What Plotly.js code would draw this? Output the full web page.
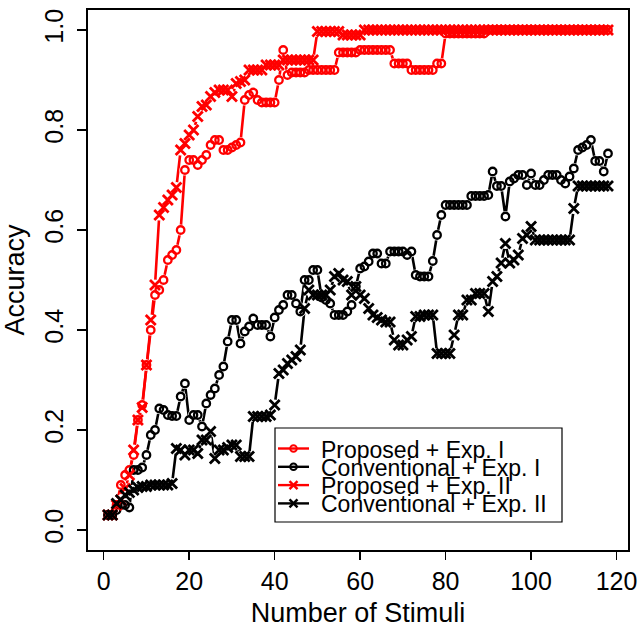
<!DOCTYPE html>
<html>
<head>
<meta charset="utf-8">
<script src="https://cdn.plot.ly/plotly-3.0.1.min.js"></script>
<style>html,body{margin:0;padding:0;background:#fff;}</style>
</head>
<body>
<div id="chart" style="width:641px;height:628px;"></div>
<script>
// Number of stimuli (x)
const stimuli = [1,2,3,4,5,6,7,8,9,10,11,12,13,14,15,16,17,18,19,20,
21,22,23,24,25,26,27,28,29,30,31,32,33,34,35,36,37,38,39,40,
41,42,43,44,45,46,47,48,49,50,51,52,53,54,55,56,57,58,59,60,
61,62,63,64,65,66,67,68,69,70,71,72,73,74,75,76,77,78,79,80,
81,82,83,84,85,86,87,88,89,90,91,92,93,94,95,96,97,98,99,100,
101,102,103,104,105,106,107,108,109,110,111,112,113,114,115,116,117,118];

// Proposed + Exp. I
const proposedExp1 = [0.03,0.03,0.05,0.09,0.11,0.12,0.15,0.22,0.25,0.33,
0.40,0.47,0.48,0.50,0.54,0.55,0.56,0.60,0.72,0.74,
0.74,0.73,0.74,0.75,0.77,0.78,0.78,0.76,0.76,0.765,
0.77,0.775,0.86,0.87,0.875,0.86,0.855,0.855,0.855,0.855,
0.90,0.96,0.91,0.915,0.915,0.915,0.915,0.92,0.92,0.92,
0.92,0.92,0.92,0.92,0.955,0.955,0.955,0.955,0.955,0.96,
0.96,0.96,0.96,0.96,0.96,0.96,0.96,0.933,0.933,0.933,
0.933,0.92,0.92,0.92,0.92,0.92,0.92,0.933,0.933,0.993,
0.993,0.993,0.993,0.993,0.993,0.993,0.993,0.993,0.993,1.0,
1.0,1.0,1.0,1.0,1.0,1.0,1.0,1.0,1.0,1.0,
1.0,1.0,1.0,1.0,1.0,1.0,1.0,1.0,1.0,1.0,
1.0,1.0,1.0,1.0,1.0,1.0,1.0,1.0];

// Conventional + Exp. I
const conventionalExp1 = [0.03,0.03,0.04,0.05,0.05,0.045,0.12,0.12,0.125,0.15,
0.19,0.20,0.243,0.24,0.23,0.228,0.228,0.267,0.293,0.22,
0.23,0.23,0.207,0.253,0.27,0.283,0.31,0.327,0.377,0.42,
0.42,0.373,0.397,0.407,0.423,0.41,0.41,0.41,0.387,0.425,
0.44,0.45,0.47,0.47,0.453,0.437,0.50,0.50,0.52,0.52,
0.465,0.46,0.453,0.43,0.43,0.43,0.437,0.45,0.487,0.523,
0.527,0.537,0.553,0.553,0.533,0.533,0.557,0.557,0.557,0.557,
0.55,0.557,0.51,0.507,0.507,0.507,0.538,0.59,0.63,0.65,
0.65,0.65,0.65,0.65,0.65,0.668,0.668,0.668,0.668,0.67,
0.717,0.688,0.688,0.627,0.697,0.703,0.71,0.71,0.69,0.713,
0.69,0.69,0.70,0.71,0.71,0.71,0.70,0.693,0.707,0.723,
0.76,0.765,0.77,0.78,0.738,0.738,0.717,0.753];

// Proposed + Exp. II
const proposedExp2 = [0.03,0.03,0.05,0.06,0.083,0.11,0.16,0.22,0.245,0.33,
0.42,0.49,0.63,0.645,0.66,0.67,0.685,0.76,0.773,0.79,
0.80,0.827,0.847,0.85,0.867,0.875,0.88,0.88,0.88,0.867,
0.893,0.897,0.90,0.92,0.92,0.92,0.92,0.93,0.93,0.93,
0.93,0.94,0.94,0.94,0.94,0.94,0.94,0.94,0.94,0.997,
0.997,0.997,0.997,0.997,0.997,0.99,0.99,0.99,0.99,0.99,
1.0,1.0,1.0,1.0,1.0,1.0,1.0,1.0,1.0,1.0,
1.0,1.0,1.0,1.0,1.0,1.0,1.0,1.0,1.0,1.0,
1.0,1.0,1.0,1.0,1.0,1.0,1.0,1.0,1.0,1.0,
1.0,1.0,1.0,1.0,1.0,1.0,1.0,1.0,1.0,1.0,
1.0,1.0,1.0,1.0,1.0,1.0,1.0,1.0,1.0,1.0,
1.0,1.0,1.0,1.0,1.0,1.0,1.0,1.0];

// Conventional + Exp. II
const conventionalExp2 = [0.03,0.03,0.053,0.06,0.07,0.075,0.08,0.085,0.087,0.087,
0.09,0.09,0.09,0.09,0.09,0.093,0.163,0.16,0.15,0.16,
0.16,0.153,0.18,0.18,0.197,0.143,0.16,0.16,0.165,0.17,
0.17,0.147,0.147,0.147,0.227,0.227,0.227,0.227,0.23,0.25,
0.313,0.32,0.333,0.34,0.347,0.36,0.443,0.48,0.47,0.47,
0.47,0.47,0.48,0.507,0.513,0.50,0.497,0.47,0.487,0.47,
0.463,0.443,0.43,0.425,0.42,0.416,0.416,0.38,0.37,0.37,
0.38,0.387,0.427,0.427,0.43,0.43,0.43,0.353,0.353,0.353,
0.353,0.39,0.43,0.43,0.46,0.46,0.473,0.473,0.473,0.437,
0.497,0.507,0.534,0.573,0.534,0.54,0.55,0.583,0.59,0.607,
0.58,0.58,0.58,0.58,0.58,0.58,0.58,0.58,0.58,0.643,
0.688,0.688,0.688,0.688,0.688,0.688,0.688,0.688];

const seriesNames = ["Proposed + Exp. I","Conventional + Exp. I","Proposed + Exp. II","Conventional + Exp. II"];
const xTicks = [0,20,40,60,80,100,120];
const yTicks = [0,0.2,0.4,0.6,0.8,1.0];

const seriesData = [proposedExp1, conventionalExp1, proposedExp2, conventionalExp2];
const colors = ["#ff0000","#000000","#ff0000","#000000"];
const symbols = ["circle-open","circle-open","x-thin-open","x-thin-open"];

const FONT = "Liberation Sans, Arial, Helvetica, sans-serif";
const traces = [];
// lines
seriesData.forEach((ys,i)=>{
  traces.push({x:stimuli,y:ys,type:"scatter",mode:"lines",name:seriesNames[i],
    line:{color:colors[i],width:2.6},showlegend:false,hoverinfo:"skip"});
});
// gaps around points (R type="b")
seriesData.forEach((ys,i)=>{
  traces.push({x:stimuli,y:ys,type:"scatter",mode:"markers",
    marker:{symbol:"circle",color:"#ffffff",size:11,line:{width:0}},showlegend:false,hoverinfo:"skip"});
});
// points
seriesData.forEach((ys,i)=>{
  const isX = symbols[i].startsWith("x");
  traces.push({x:stimuli,y:ys,type:"scatter",mode:"markers",name:seriesNames[i],
    marker:{symbol:symbols[i],color:colors[i],size:isX?10:7.5,line:{color:colors[i],width:isX?2.8:2.3}},
    showlegend:false});
});

// manual R-style legend
const px = v => (v-88)/540;      // pixel -> paper x
const py = v => (550-v)/540;     // pixel -> paper y
const rows = [448.5,466.8,485.1,503.4];
const shapes = [{type:"rect",xref:"paper",yref:"paper",x0:px(275),x1:px(562),y0:py(522),y1:py(428),
  line:{color:"#000",width:1.2},fillcolor:"#ffffff",layer:"above"}];
const annotations = [];
rows.forEach((ry,i)=>{
  shapes.push({type:"line",xref:"paper",yref:"paper",x0:px(278),x1:px(309),y0:py(ry),y1:py(ry),
    line:{color:colors[i],width:2.4},layer:"above"});
  if(symbols[i].startsWith("circle")){
    shapes.push({type:"circle",xref:"paper",yref:"paper",xsizemode:"pixel",ysizemode:"pixel",
      xanchor:px(293.5),yanchor:py(ry),x0:-3.3,x1:3.3,y0:-3.3,y1:3.3,
      line:{color:colors[i],width:2},layer:"above"});
  } else {
    shapes.push({type:"line",xref:"paper",yref:"paper",xsizemode:"pixel",ysizemode:"pixel",
      xanchor:px(293.5),yanchor:py(ry),x0:-4,x1:4,y0:-4,y1:4,line:{color:colors[i],width:2.4},layer:"above"});
    shapes.push({type:"line",xref:"paper",yref:"paper",xsizemode:"pixel",ysizemode:"pixel",
      xanchor:px(293.5),yanchor:py(ry),x0:-4,x1:4,y0:4,y1:-4,line:{color:colors[i],width:2.4},layer:"above"});
  }
  annotations.push({xref:"paper",yref:"paper",x:px(320),y:py(ry+1),xanchor:"left",yanchor:"middle",
    text:seriesNames[i],showarrow:false,font:{family:FONT,size:23,color:"#000"},borderpad:0});
});

const layout = {
  width:641,height:628,
  margin:{l:88,r:13,t:10,b:78,pad:0},
  paper_bgcolor:"#fff",plot_bgcolor:"#fff",
  showlegend:false,
  font:{family:FONT,color:"#000"},
  xaxis:{range:[-3.68,122.68],tickvals:xTicks,ticktext:xTicks.map(String),
    ticks:"outside",ticklen:8,tickwidth:1.5,tickcolor:"#000",
    showline:true,mirror:true,linecolor:"#000",linewidth:2,
    showgrid:false,zeroline:false,
    tickfont:{family:FONT,size:25,color:"#000"},
    title:{text:"Number of Stimuli",font:{family:FONT,size:27,color:"#000"},standoff:13}},
  yaxis:{range:[-0.04,1.04],tickvals:yTicks,ticktext:yTicks.map(v=>v.toFixed(1)),
    tickangle:-90,ticklabelstandoff:4,
    ticks:"outside",ticklen:9,tickwidth:1.5,tickcolor:"#000",
    showline:true,mirror:true,linecolor:"#000",linewidth:2,
    showgrid:false,zeroline:false,
    tickfont:{family:FONT,size:25,color:"#000"},
    title:{text:"Accuracy",font:{family:FONT,size:27,color:"#000"},standoff:8}},
  shapes:shapes,
  annotations:annotations
};

Plotly.newPlot("chart",traces,layout,{displayModeBar:false,staticPlot:true});
</script>
</body>
</html>
